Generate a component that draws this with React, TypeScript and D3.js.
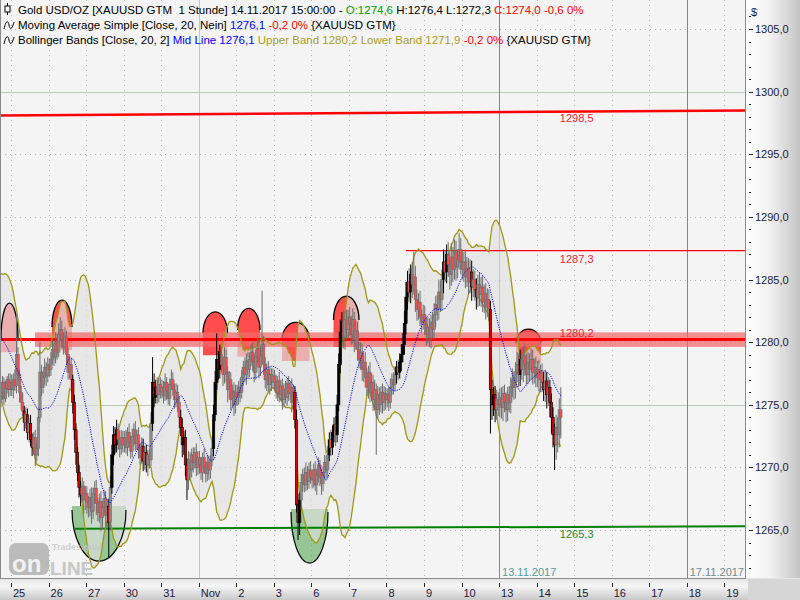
import React from "react";
import * as d3 from "d3";

// ---- axis labels ----
const dayLabels = ["25", "26", "27", "30", "31", "Nov", "2", "3", "6", "7", "8", "9", "10", "13", "14", "15", "16", "17", "18", "19"];
const priceTicks = [1265, 1270, 1275, 1280, 1285, 1290, 1295, 1300, 1305];
const solidPriceLines = [1275, 1300];

// ---- hourly closes (XAUUSD, 1h), first day = 24 Oct (lead-in) ----
const oct24 = [1280.5, 1281.0, 1281.6, 1282.0, 1282.4, 1282.8, 1283.2, 1282.6, 1283.0, 1282.2, 1281.5, 1281.0, 1280.2, 1279.0, 1277.5, 1276.0, 1275.2, 1276.0, 1276.8, 1275.5, 1276.3, 1277.0, 1276.2, 1276.8];
const oct25 = [1276.2, 1277.0, 1276.5, 1279.0, 1277.4, 1276.0, 1275.2, 1274.5, 1273.6, 1274.2, 1272.8, 1273.5, 1272.2, 1271.6, 1272.4, 1271.0, 1271.5, 1274.0, 1277.6, 1276.4, 1277.2, 1278.0, 1277.3, 1278.2];
const oct26 = [1277.8, 1278.6, 1279.4, 1278.8, 1280.0, 1279.2, 1280.6, 1281.0, 1280.2, 1279.6, 1280.4, 1279.0, 1277.6, 1278.2, 1277.0, 1275.2, 1273.0, 1271.2, 1269.6, 1268.4, 1267.8, 1268.5, 1267.4, 1267.9];
const oct27 = [1267.2, 1266.8, 1267.6, 1266.5, 1267.9, 1268.3, 1267.1, 1266.4, 1267.3, 1266.0, 1266.8, 1267.5, 1266.2, 1266.9, 1265.6, 1268.4, 1271.0, 1272.6, 1271.8, 1273.0, 1272.2, 1271.5, 1272.4, 1271.8];
const oct30 = [1272.4, 1271.6, 1272.8, 1272.0, 1271.3, 1272.5, 1273.0, 1271.9, 1272.6, 1271.4, 1270.8, 1271.7, 1270.5, 1271.2, 1270.2, 1271.0, 1270.6, 1273.5, 1276.8, 1275.6, 1276.4, 1275.8, 1276.6, 1276.0];
const oct31 = [1276.4, 1275.7, 1276.8, 1276.1, 1275.5, 1276.6, 1277.0, 1276.2, 1275.4, 1276.0, 1275.2, 1274.0, 1273.2, 1271.8, 1272.4, 1270.2, 1269.0, 1270.6, 1269.8, 1271.0, 1270.4, 1271.2, 1270.0, 1270.8];
const nov01 = [1270.2, 1269.6, 1270.8, 1270.0, 1269.5, 1270.4, 1269.8, 1270.6, 1271.5, 1274.2, 1276.8, 1278.6, 1277.8, 1279.0, 1278.2, 1277.4, 1278.8, 1277.6, 1276.2, 1277.0, 1275.4, 1276.1, 1275.0, 1276.0];
const nov02 = [1275.6, 1276.4, 1276.0, 1277.2, 1278.0, 1277.4, 1278.5, 1277.8, 1278.6, 1279.2, 1278.4, 1277.6, 1278.8, 1279.5, 1278.0, 1278.9, 1279.8, 1278.2, 1277.0, 1277.8, 1276.6, 1277.4, 1276.8, 1277.3];
const nov03 = [1276.8, 1276.0, 1276.9, 1275.8, 1276.5, 1275.4, 1276.2, 1275.6, 1276.7, 1275.9, 1276.4, 1275.2, 1276.0, 1273.8, 1267.0, 1265.6, 1267.4, 1268.8, 1269.4, 1268.6, 1269.6, 1268.9, 1269.8, 1269.2];
const nov06 = [1269.0, 1269.8, 1268.6, 1269.4, 1270.2, 1269.2, 1268.7, 1269.6, 1270.4, 1269.8, 1271.0, 1272.2, 1271.6, 1272.8, 1273.4, 1272.6, 1275.0, 1278.2, 1280.8, 1281.6, 1280.4, 1281.8, 1281.0, 1282.0];
const nov07 = [1281.4, 1280.6, 1281.8, 1280.2, 1280.9, 1279.4, 1278.6, 1279.2, 1277.8, 1278.4, 1277.2, 1276.4, 1277.6, 1276.0, 1276.8, 1275.4, 1276.2, 1274.6, 1275.8, 1275.0, 1276.0, 1275.2, 1275.9, 1275.4];
const nov08 = [1275.8, 1275.2, 1276.4, 1277.0, 1276.6, 1277.4, 1278.0, 1277.6, 1278.4, 1279.0, 1279.8, 1281.5, 1283.6, 1284.8, 1284.0, 1285.4, 1284.6, 1285.2, 1283.4, 1282.6, 1283.2, 1282.0, 1281.6, 1282.2];
const nov09 = [1281.4, 1280.6, 1281.2, 1280.4, 1281.6, 1281.0, 1282.2, 1283.0, 1282.6, 1284.0, 1283.4, 1285.0, 1286.4, 1285.6, 1287.0, 1286.2, 1285.4, 1286.8, 1285.8, 1287.2, 1286.0, 1286.6, 1287.4, 1286.4];
const nov10 = [1285.8, 1286.4, 1285.2, 1285.9, 1284.8, 1285.6, 1284.4, 1285.0, 1284.2, 1283.6, 1284.6, 1283.8, 1284.4, 1283.2, 1283.9, 1282.8, 1283.4, 1282.6, 1276.2, 1275.0, 1275.8, 1274.6, 1275.4, 1275.0];
const nov13 = [1275.6, 1274.8, 1275.9, 1275.2, 1274.6, 1275.8, 1275.2, 1276.4, 1277.0, 1276.4, 1277.6, 1278.2, 1277.4, 1278.6, 1277.8, 1278.9, 1278.2, 1277.4, 1278.4, 1277.8, 1278.6, 1277.6, 1278.0, 1277.2];
const nov14 = [1277.8, 1277.0, 1277.6, 1276.8, 1276.2, 1276.9, 1275.8, 1276.4, 1275.2, 1274.0, 1272.6, 1271.8, 1273.2, 1272.6, 1274.6, 1274.0];
const closesByDay = [oct24, oct25, oct26, oct27, oct30, oct31, nov01, nov02, nov03, nov06, nov07, nov08, nov09, nov10, nov13, nov14];

// upper / lower wick beyond the body, in tenths of a dollar
const wickHiByDay = [
  [5, 4, 6, 3, 5, 4, 6, 5, 4, 3, 5, 4, 6, 5, 4, 3, 6, 8, 5, 4, 6, 3, 5, 7],
  [6, 5, 8, 32, 6, 4, 5, 7, 4, 6, 5, 4, 7, 5, 4, 6, 5, 8, 24, 6, 5, 7, 4, 6],
  [5, 6, 7, 5, 8, 6, 9, 10, 7, 6, 8, 5, 6, 7, 5, 4, 6, 5, 4, 6, 5, 7, 4, 6],
  [6, 5, 7, 8, 5, 6, 7, 5, 6, 8, 5, 7, 6, 5, 6, 9, 8, 7, 6, 8, 5, 7, 6, 5],
  [5, 6, 4, 7, 5, 6, 5, 7, 4, 6, 5, 7, 6, 5, 6, 4, 5, 9, 20, 7, 6, 8, 5, 6],
  [6, 5, 7, 4, 6, 5, 8, 6, 5, 7, 6, 5, 6, 7, 5, 6, 5, 7, 6, 5, 6, 4, 7, 5],
  [5, 6, 4, 7, 5, 6, 5, 4, 6, 8, 9, 21, 7, 8, 6, 7, 8, 6, 5, 7, 6, 5, 7, 6],
  [6, 5, 7, 6, 5, 8, 6, 7, 5, 6, 8, 7, 6, 9, 7, 8, 43, 7, 6, 5, 7, 6, 5, 6],
  [5, 6, 4, 7, 5, 6, 5, 7, 4, 6, 5, 7, 6, 5, 8, 9, 6, 7, 5, 6, 8, 5, 6, 7],
  [6, 5, 7, 5, 6, 4, 7, 5, 6, 5, 7, 6, 8, 5, 6, 7, 8, 9, 10, 8, 9, 7, 8, 6],
  [8, 7, 9, 6, 8, 7, 6, 8, 7, 6, 8, 7, 5, 8, 7, 6, 8, 5, 7, 6, 5, 7, 6, 5],
  [5, 6, 7, 5, 6, 7, 5, 6, 7, 8, 9, 10, 12, 9, 11, 8, 10, 20, 9, 8, 7, 9, 6, 8],
  [7, 6, 8, 7, 6, 8, 9, 7, 8, 10, 9, 8, 10, 9, 8, 10, 9, 11, 8, 10, 9, 8, 13, 9],
  [9, 8, 10, 9, 8, 10, 9, 8, 7, 9, 8, 10, 8, 9, 7, 8, 9, 8, 7, 8, 6, 7, 8, 6],
  [7, 8, 6, 7, 8, 6, 7, 8, 9, 7, 8, 10, 9, 8, 9, 8, 10, 9, 8, 7, 9, 8, 7, 8],
  [7, 8, 6, 7, 8, 9, 7, 8, 6, 7, 8, 9, 10, 8, 9, 18],
];
const wickLoByDay = [
  [4, 5, 3, 6, 4, 5, 3, 4, 6, 5, 4, 3, 5, 6, 4, 7, 5, 4, 6, 5, 3, 4, 6, 5],
  [5, 7, 4, 6, 5, 8, 6, 4, 7, 5, 6, 8, 5, 7, 6, 9, 5, 6, 4, 7, 5, 6, 8, 5],
  [6, 5, 4, 7, 5, 6, 4, 5, 7, 6, 5, 8, 6, 5, 7, 9, 8, 10, 7, 8, 9, 6, 11, 8],
  [9, 8, 7, 10, 6, 8, 9, 7, 8, 11, 9, 7, 10, 12, 28, 6, 5, 8, 7, 6, 8, 7, 5, 6],
  [6, 5, 7, 4, 6, 5, 8, 6, 5, 7, 6, 5, 8, 7, 6, 9, 7, 5, 6, 8, 5, 7, 6, 5],
  [5, 6, 4, 7, 5, 6, 4, 5, 7, 6, 8, 9, 7, 10, 8, 9, 16, 8, 7, 6, 8, 5, 7, 6],
  [7, 6, 8, 5, 7, 6, 8, 7, 5, 6, 5, 6, 8, 7, 6, 9, 7, 8, 10, 7, 8, 6, 9, 7],
  [7, 6, 8, 5, 7, 6, 8, 7, 6, 5, 7, 8, 6, 5, 9, 7, 6, 8, 7, 9, 6, 8, 7, 5],
  [6, 5, 7, 6, 5, 8, 6, 5, 7, 6, 5, 8, 6, 7, 6, 14, 10, 8, 7, 6, 5, 7, 6, 5],
  [7, 6, 5, 8, 6, 7, 9, 6, 5, 7, 6, 5, 7, 6, 8, 9, 6, 5, 7, 8, 9, 10, 8, 7],
  [9, 8, 7, 10, 8, 9, 7, 8, 9, 10, 8, 7, 9, 8, 7, 9, 8, 36, 7, 8, 6, 9, 7, 8],
  [6, 7, 5, 6, 8, 5, 7, 6, 5, 7, 6, 8, 9, 10, 8, 9, 11, 8, 10, 9, 8, 7, 9, 6],
  [8, 9, 7, 8, 9, 7, 8, 10, 9, 8, 10, 9, 11, 8, 9, 10, 12, 9, 10, 8, 11, 9, 8, 10],
  [8, 10, 9, 8, 10, 9, 11, 8, 9, 10, 8, 9, 10, 8, 9, 10, 8, 9, 35, 12, 9, 10, 8, 9],
  [10, 9, 11, 8, 10, 9, 8, 9, 8, 10, 9, 8, 10, 9, 8, 10, 9, 8, 7, 9, 8, 10, 9, 8],
  [8, 9, 10, 8, 9, 10, 11, 9, 12, 13, 10, 20, 12, 14, 10, 17],
];

// ---- signal markers (day units, prices) ----
const domeStart = [-0.266, 1.092, 5.115, 6.034, 7.219, 8.591, 13.452];
const domeEnd = [0.186, 1.625, 5.767, 6.633, 7.952, 9.27, 14.118];
const domeApex = [1283.11, 1283.35, 1282.42, 1282.69, 1281.57, 1283.67, 1281.04];
const domeCenter = [1280.32, 1281.2, 1280.72, 1280.96, 1280.16, 1281.76, 1279.92];
const domeBase = [1279.2, 1279.36, 1278.96, 1278.83, 1278.5, 1279.62, 1278.32];

const bowlStart = [1.625, 7.459];
const bowlEnd = [3.063, 8.444];
const bowlTop = [1266.91, 1266.67];
const bowlCenter = [1266.59, 1266.43];
const bowlApex = [1262.52, 1262.36];

// ---- horizontal levels ----
const levelLabels = ["1298,5", "1287,3", "1280,2", "1265,3"];
const levelStartDay = [-0.4, 10.52, -0.4, 1.705];
const levelStartPrice = [1298.1, 1287.3, 1280.2, 1265.1];
const levelEndPrice = [1298.5, 1287.3, 1280.2, 1265.3];
const levelColors = ["#ff0000", "#ff0000", "#ff0000", "#008000"];
const levelTextColors = ["#f0203c", "#f0203c", "#f0203c", "#2a8a2a"];
const levelWidths = [2.5, 1.2, 3, 2];
const levelLabelBelow = [true, true, false, true];
const zoneStartDay = 0.64; // pink zone around 1280.2
const zoneHalf = 0.58;

const markerDays = [5, 13, 18];
const markerColors = ["#b5d0b5", "#4e9e9e", "#6b8e8e"];
const markerLabels = ["", "13.11.2017", "17.11.2017"];

const FONT = "'Liberation Sans', Arial, sans-serif";

export default function App() {
  const plotR = 745;
  const plotB = 578;
  const x = d3.scaleLinear().domain([0, 19]).range([11, 724.3]);
  const y = d3.scaleLinear().domain([1265, 1305]).range([530, 29]);

  type Bar = { t: number; o: number; h: number; l: number; c: number; mid: number; up: number; dn: number };
  const bars: Bar[] = [];
  closesByDay.forEach((arr, di) => {
    arr.forEach((c, h) => {
      const prev = bars.length > 0 ? bars[bars.length - 1].c : c;
      bars.push({
        t: di - 1 + (h + 0.5) / 24,
        o: prev,
        h: Math.max(prev, c) + wickHiByDay[di][h] / 10,
        l: Math.min(prev, c) - wickLoByDay[di][h] / 10,
        c,
        mid: c,
        up: c,
        dn: c,
      });
    });
  });
  bars.forEach((b, i) => {
    const w = bars.slice(Math.max(0, i - 19), i + 1).map((v) => v.c);
    const m = d3.mean(w) as number;
    const sd = Math.sqrt(d3.mean(w.map((v) => (v - m) * (v - m))) as number);
    b.mid = m;
    b.up = m + 2 * sd;
    b.dn = m - 2 * sd;
  });

  const bandArea = d3
    .area<Bar>()
    .x((b) => x(b.t))
    .y0((b) => y(b.dn))
    .y1((b) => y(b.up));
  const upLine = d3.line<Bar>().x((b) => x(b.t)).y((b) => y(b.up));
  const dnLine = d3.line<Bar>().x((b) => x(b.t)).y((b) => y(b.dn));
  const midLine = d3.line<Bar>().x((b) => x(b.t)).y((b) => y(b.mid));

  const domes = domeStart.map((d0, i) => {
    const x0 = x(d0), x1 = x(domeEnd[i]);
    const rx = (x1 - x0) / 2;
    const yc = y(domeCenter[i]), ya = y(domeApex[i]), yb = y(domeBase[i]);
    const ry = yc - ya;
    return {
      fill: `M${x0},${yb}L${x0},${yc}A${rx},${ry} 0 0 1 ${x1},${yc}L${x1},${yb}Z`,
      edge: `M${x0},${yc}A${rx},${ry} 0 0 1 ${x1},${yc}`,
    };
  });
  const bowls = bowlStart.map((d0, i) => {
    const x0 = x(d0), x1 = x(bowlEnd[i]);
    const rx = (x1 - x0) / 2;
    const yc = y(bowlCenter[i]), ya = y(bowlApex[i]), yt = y(bowlTop[i]);
    const ry = ya - yc;
    return {
      fill: `M${x0},${yt}L${x0},${yc}A${rx},${ry} 0 0 0 ${x1},${yc}L${x1},${yt}Z`,
      edge: `M${x0},${yc}A${rx},${ry} 0 0 0 ${x1},${yc}`,
    };
  });

  const endDay = (plotR - 11) / 37.542;
  const labelX = x(14.62);

  const minorTicks = d3.range(1262, 1307, 1).filter((v) => v % 5 !== 0);

  return (
    <svg width={800} height={600} style={{ position: "absolute", left: 0, top: 0, fontFamily: FONT }}>
      <defs>
        <clipPath id="plot">
          <rect x={0} y={0} width={plotR} height={plotB} />
        </clipPath>
        <linearGradient id="rAxis" x1="0" x2="1" y1="0" y2="0">
          <stop offset="0" stopColor="#ffffff" />
          <stop offset="0.45" stopColor="#f2f2f2" />
          <stop offset="1" stopColor="#c4c4c4" />
        </linearGradient>
        <linearGradient id="bAxis" x1="0" x2="0" y1="0" y2="1">
          <stop offset="0" stopColor="#e2e2e2" />
          <stop offset="0.35" stopColor="#f7f7f7" />
          <stop offset="1" stopColor="#c9c9c9" />
        </linearGradient>
      </defs>

      {/* backgrounds */}
      <rect x={0} y={0} width={800} height={600} fill="#f4f4f4" />
      <rect x={plotR} y={0} width={800 - plotR} height={plotB} fill="url(#rAxis)" />
      <rect x={0} y={plotB} width={800} height={600 - plotB} fill="url(#bAxis)" />
      <rect x={748} y={plotB + 1} width={52} height={600 - plotB} fill="#d6d6d6" />

      <g clipPath="url(#plot)">
        {/* grid */}
        {priceTicks.map((p) => (
          <line key={"hg" + p} x1={0} x2={plotR} y1={Math.round(y(p)) + 0.5} y2={Math.round(y(p)) + 0.5}
            stroke={solidPriceLines.includes(p) ? "#bccabc" : "#b4b4b4"}
            strokeDasharray={solidPriceLines.includes(p) ? undefined : "1,4"} />
        ))}
        {dayLabels.map((_, i) => (
          <line key={"vg" + i} x1={Math.round(x(i)) + 0.5} x2={Math.round(x(i)) + 0.5} y1={0} y2={plotB}
            stroke="#b4b4b4" strokeDasharray="1,4" />
        ))}
        {markerDays.map((d, i) => (
          <line key={"mk" + i} x1={Math.round(x(d)) + 0.5} x2={Math.round(x(d)) + 0.5} y1={0} y2={plotB}
            stroke={markerColors[i]} strokeWidth={1} />
        ))}

        {/* signal markers */}
        {domes.map((d, i) => (
          <path key={"df" + i} d={d.fill} fill="#ff4d4d" />
        ))}
        {bowls.map((d, i) => (
          <path key={"bf" + i} d={d.fill} fill="#49a049" fillOpacity={0.55} />
        ))}

        {/* bollinger fill */}
        <path d={bandArea(bars) || ""} fill="#e0e0e0" fillOpacity={0.68} />

        {domes.map((d, i) => (
          <path key={"de" + i} d={d.edge} fill="none" stroke="#000" strokeWidth={1.3} />
        ))}
        {bowls.map((d, i) => (
          <path key={"be" + i} d={d.edge} fill="none" stroke="#000" strokeWidth={1.2} />
        ))}

        {/* zone around 1280.2 */}
        <rect x={x(zoneStartDay)} y={y(1280.2 + zoneHalf)} width={plotR - x(zoneStartDay)}
          height={y(1280.2 - zoneHalf) - y(1280.2 + zoneHalf)} fill="#f06a6a" fillOpacity={0.72} />

        {/* levels */}
        {levelLabels.map((lab, i) => (
          <line key={"lv" + i} x1={x(levelStartDay[i])} x2={x(endDay)}
            y1={y(levelStartPrice[i])} y2={y(levelEndPrice[i])}
            stroke={levelColors[i]} strokeWidth={levelWidths[i]} />
        ))}

        {/* bollinger lines */}
        <path d={upLine(bars) || ""} fill="none" stroke="#9c9a10" strokeWidth={1.3} />
        <path d={dnLine(bars) || ""} fill="none" stroke="#9c9a10" strokeWidth={1.3} />

        {/* candles */}
        {bars.map((b, i) => {
          const cx = x(b.t);
          const outside = i >= 19 && (b.c > b.up || b.c < b.dn);
          const down = b.c < b.o;
          const col = outside ? "#000" : "#6c6c6c";
          const top = y(Math.max(b.o, b.c));
          const bot = y(Math.min(b.o, b.c));
          return (
            <g key={"c" + i}>
              <line x1={cx} x2={cx} y1={y(b.h)} y2={y(b.l)} stroke={col} strokeWidth={1} />
              <rect x={cx - 1.2} y={top} width={2.4} height={Math.max(0.8, bot - top)}
                fill={outside ? (down ? "#e00000" : "#000") : down ? "#ff4a4a" : "#8c8c8c"}
                stroke={col} strokeWidth={0.6} />
            </g>
          );
        })}

        {/* SMA */}
        <path d={midLine(bars) || ""} fill="none" stroke="#0000ff" strokeWidth={1} strokeDasharray="1.2,1.2" />

        {/* level labels */}
        {levelLabels.map((lab, i) => (
          <text key={"lt" + i} x={labelX} y={y(levelEndPrice[i]) + (levelLabelBelow[i] ? 12 : -3)}
            fontSize={11} fill={levelTextColors[i]}>{lab}</text>
        ))}

        {/* marker date labels */}
        {markerLabels.map((lab, i) =>
          lab ? (
            <text key={"ml" + i} x={x(markerDays[i]) + 3} y={576} fontSize={11} fill={markerColors[i]}>{lab}</text>
          ) : null
        )}

        {/* watermark */}
        <g opacity={0.75}>
          <rect x={9} y={543} width={40} height={32} rx={7} fill="#a8a8a8" />
          <text x={12} y={572} fontSize={24} fontWeight="bold" fill="#f2f2f2">on</text>
          <text x={50} y={575} fontSize={19} fontWeight="bold" fill="#b8b8b8">LINE</text>
          <text x={52} y={550} fontSize={9} fontWeight="bold" fill="#c4c4c4">Tradesignal</text>
        </g>
      </g>

      {/* borders */}
      <line x1={0.5} x2={0.5} y1={0} y2={plotB} stroke="#8a8a8a" />
      <line x1={plotR + 0.5} x2={plotR + 0.5} y1={0} y2={plotB + 1} stroke="#8a8a8a" />
      <line x1={0} x2={plotR + 1} y1={plotB + 0.5} y2={plotB + 0.5} stroke="#8a8a8a" />

      {/* right axis */}
      <text x={751} y={16} fontSize={11} fill="#1a1a3a">$</text>
      {minorTicks.map((v) => (
        <line key={"mt" + v} x1={749} x2={751} y1={Math.round(y(v)) + 0.5} y2={Math.round(y(v)) + 0.5} stroke="#222" />
      ))}
      {priceTicks.map((p) => (
        <g key={"pt" + p}>
          <line x1={749} x2={753} y1={Math.round(y(p)) + 0.5} y2={Math.round(y(p)) + 0.5} stroke="#222" />
          <text x={755} y={y(p) + 4} fontSize={11} fill="#1a1a3a">{p.toFixed(1).replace(".", ",")}</text>
        </g>
      ))}

      {/* bottom axis */}
      {dayLabels.map((lab, i) => (
        <g key={"dt" + i}>
          <line x1={Math.round(x(i)) + 0.5} x2={Math.round(x(i)) + 0.5} y1={583} y2={587} stroke="#222" />
          <text x={x(i) + 2} y={597} fontSize={11} fill="#1a1a3a">{lab}</text>
        </g>
      ))}

      {/* legend */}
      <g fontSize={11.5} style={{ whiteSpace: "pre" }}>
        <line x1={7.5} x2={7.5} y1={3} y2={15} stroke="#000" />
        <rect x={5} y={6} width={5} height={6} fill="#fff" stroke="#000" />
        <text x={18} y={14} xmlSpace="preserve">
          <tspan fill="#000">{"Gold USD/OZ [XAUUSD GTM  1 Stunde] 14.11.2017 15:00:00 - "}</tspan>
          <tspan fill="#00a000">{"O:1274,6 "}</tspan>
          <tspan fill="#000">{"H:1276,4 L:1272,3 "}</tspan>
          <tspan fill="#ff0000">{"C:1274,0 -0,6 0%"}</tspan>
        </text>
        <path d="M4,29 C6,20 8,20 9,25 S12,30 14,22" fill="none" stroke="#000" strokeWidth={1} />
        <text x={18} y={29} xmlSpace="preserve">
          <tspan fill="#000">{"Moving Average Simple [Close, 20, Nein] "}</tspan>
          <tspan fill="#0000ff">{"1276,1 "}</tspan>
          <tspan fill="#ff0000">{"-0,2 0% "}</tspan>
          <tspan fill="#000">{"{XAUUSD GTM}"}</tspan>
        </text>
        <path d="M4,44 C6,35 8,35 9,40 S12,45 14,37" fill="none" stroke="#000" strokeWidth={1} />
        <text x={18} y={44} xmlSpace="preserve">
          <tspan fill="#000">{"Bollinger Bands [Close, 20, 2] "}</tspan>
          <tspan fill="#0000ff">{"Mid Line 1276,1 "}</tspan>
          <tspan fill="#a89f2a">{"Upper Band 1280,2 Lower Band 1271,9 "}</tspan>
          <tspan fill="#ff0000">{"-0,2 0% "}</tspan>
          <tspan fill="#000">{"{XAUUSD GTM}"}</tspan>
        </text>
      </g>
    </svg>
  );
}
